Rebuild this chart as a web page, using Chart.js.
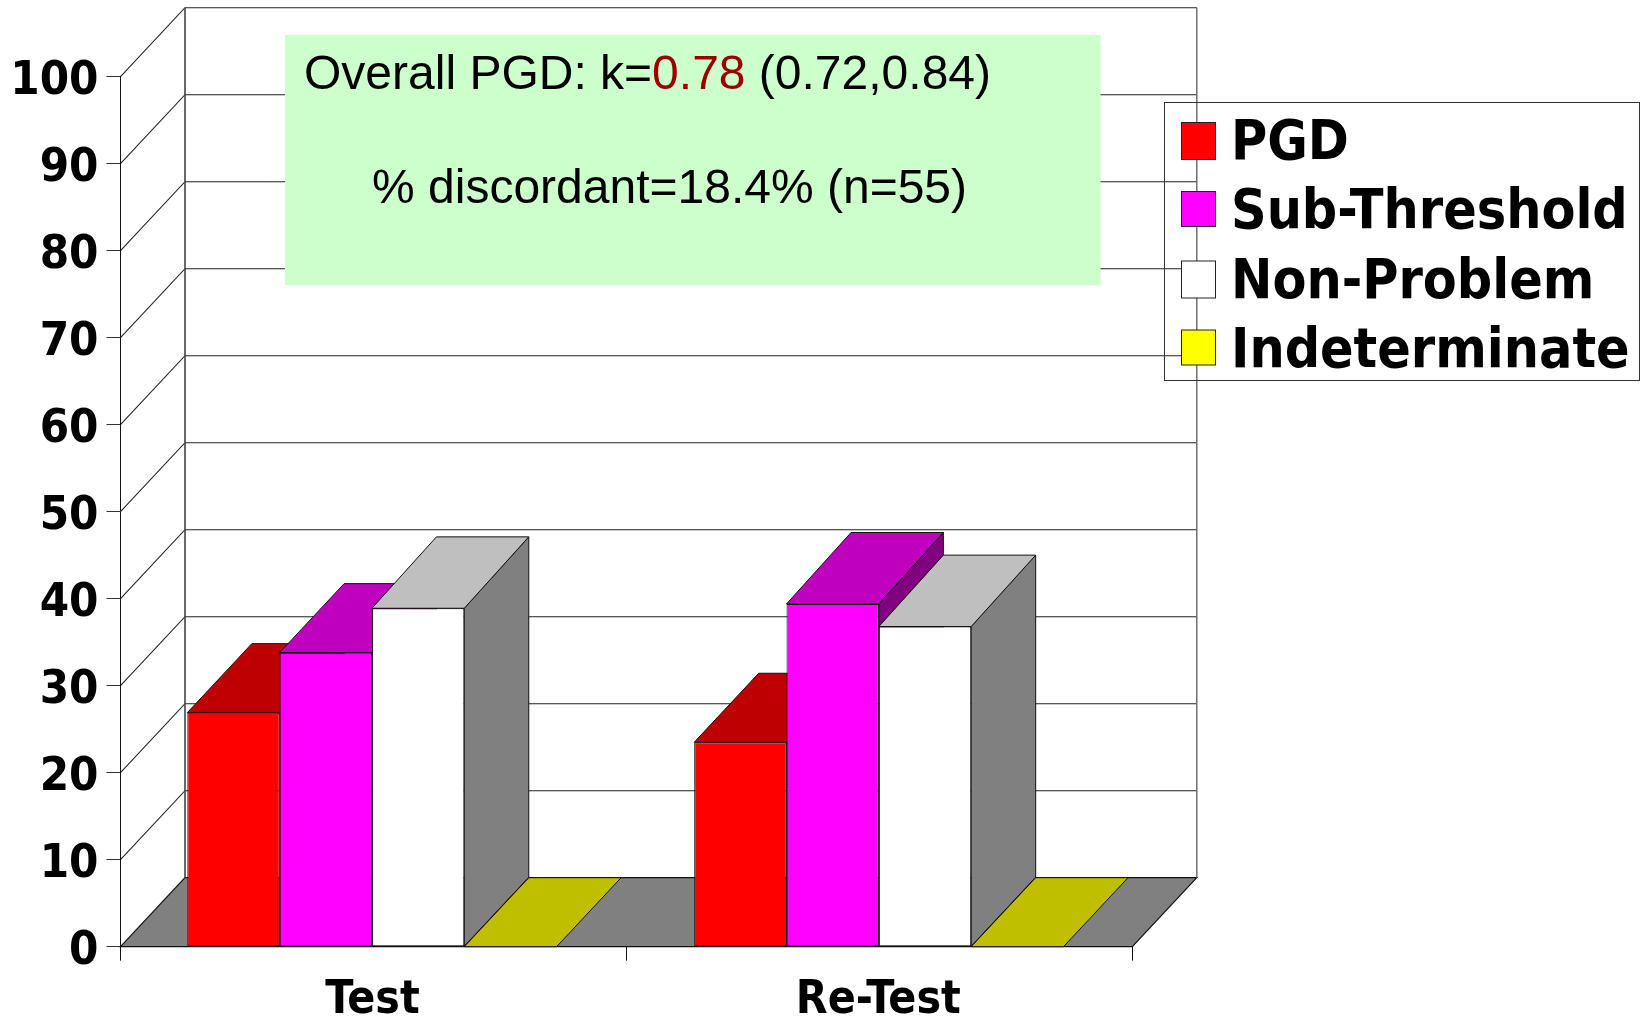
<!DOCTYPE html>
<html><head><meta charset="utf-8">
<style>html,body{margin:0;padding:0;background:#fff}canvas{display:block}</style>
<script src="https://cdn.jsdelivr.net/npm/chart.js@4/dist/chart.umd.min.js"></script>
</head><body><canvas id="c" width="1648" height="1019"></canvas>
<script>
const categories = ["Test", "Re-Test"];
const seriesNames = ["PGD", "Sub-Threshold", "Non-Problem", "Indeterminate"];
const pgd = [26.9, 23.5];
const subThreshold = [33.8, 39.4];
const nonProblem = [38.9, 36.8];
const indeterminate = [0, 0];
const frontColors = ["#FF0000", "#FF00FF", "#FFFFFF", "#FFFF00"];
const topColors = ["#BF0000", "#BF00BF", "#BFBFBF", "#BFBF00"];
const sideColors = ["#800000", "#800080", "#808080", "#808000"];
const noteLine1 = ["Overall PGD: k=", "0.78", " (0.72,0.84)"];
const noteLine2 = "% discordant=18.4% (n=55)";
const DX = 64.5, DY = 69, TALL_DY = 71.4, TALL_FROM = 35;
const BAR_SHIFT = [-1.5, -0.5];
const bold = s => `bold ${s}px "DejaVu Sans Condensed", "DejaVu Sans", sans-serif`;

function poly(ctx, pts, fill, stroke, lw) {
  ctx.beginPath();
  pts.forEach((p, i) => i ? ctx.lineTo(p[0], p[1]) : ctx.moveTo(p[0], p[1]));
  ctx.closePath();
  if (fill) { ctx.fillStyle = fill; ctx.fill(); }
  if (stroke) { ctx.strokeStyle = stroke; ctx.lineWidth = lw || 1; ctx.stroke(); }
}

const walls = {
  id: "walls",
  afterDatasetsUpdate(chart) {
    chart.data.datasets.forEach((ds, i) => {
      chart.getDatasetMeta(i).data.forEach((el, c) => { el.x += BAR_SHIFT[c]; });
    });
  },
  beforeDraw(chart) {
    const { ctx, chartArea: a, scales: { y } } = chart;
    ctx.save();
    const y0 = y.getPixelForValue(0);
    poly(ctx, [[a.left, y0], [a.right, y0], [a.right + DX, y0 - DY], [a.left + DX, y0 - DY]], "#808080", "#111", 1.2);
    ctx.lineWidth = 1.1; ctx.strokeStyle = "#222";
    y.ticks.forEach(t => {
      const p = y.getPixelForValue(t.value);
      if (t.value > 0) {
        ctx.beginPath();
        ctx.moveTo(a.left, p); ctx.lineTo(a.left + DX, p - DY); ctx.lineTo(a.right + DX, p - DY);
        ctx.stroke();
      }
    });
    ctx.strokeStyle = "#444"; ctx.lineWidth = 1.6;
    ctx.beginPath(); ctx.moveTo(a.left + DX, y0 - DY); ctx.lineTo(a.left + DX, a.top - DY); ctx.stroke();
    ctx.strokeStyle = "#666"; ctx.lineWidth = 1.4;
    ctx.beginPath(); ctx.moveTo(a.right + DX, y0 - DY); ctx.lineTo(a.right + DX, a.top - DY); ctx.stroke();
    ctx.restore();
  },
  beforeDatasetsDraw(chart) {
    const { ctx } = chart;
    ctx.save();
    ctx.lineJoin = "round";
    for (let c = 0; c < categories.length; c++) {
      chart.data.datasets.forEach((ds, i) => {
        const el = chart.getDatasetMeta(i).data[c];
        const l = el.x - el.width / 2, r = el.x + el.width / 2, t = el.y, b = el.base;
        const dy = ds.data[c] > TALL_FROM ? TALL_DY : DY;
        if (b - t > 0.5) poly(ctx, [[r, t], [r + DX, t - dy], [r + DX, b - DY], [r, b]], sideColors[i], "#111", 1);
        poly(ctx, [[l, t], [l + DX, t - dy], [r + DX, t - dy], [r, t]], topColors[i], "#111", 1);
      });
    }
    ctx.restore();
  },
  afterDraw(chart) {
    const { ctx } = chart;
    ctx.save();
    ctx.fillStyle = "#CCFFCC";
    ctx.fillRect(285, 35, 815.5, 250);
    ctx.font = '48px "Liberation Sans", Arial, sans-serif';
    ctx.textBaseline = "alphabetic"; ctx.textAlign = "left";
    let x = 304;
    [["#000", noteLine1[0]], ["#990000", noteLine1[1]], ["#000", noteLine1[2]]].forEach(([col, s]) => {
      ctx.fillStyle = col; ctx.fillText(s, x, 88.5); x += ctx.measureText(s).width;
    });
    ctx.fillStyle = "#000"; ctx.fillText(noteLine2, 372, 203);
    // legend
    ctx.strokeStyle = "#333"; ctx.lineWidth = 1;
    ctx.strokeRect(1164.5, 102.5, 475, 278);
    const boxes = [[122.5, 37], [191.5, 35], [261, 37], [330, 35]];
    const base = [159, 228, 298, 367];
    chart.data.datasets.forEach((ds, i) => {
      ctx.fillStyle = ds.backgroundColor;
      ctx.fillRect(1181.5, boxes[i][0], 34, boxes[i][1]);
      ctx.strokeStyle = "#222"; ctx.strokeRect(1181.5, boxes[i][0], 34, boxes[i][1]);
      ctx.fillStyle = "#000"; ctx.font = bold(55);
      ctx.fillText(ds.label, 1231, base[i]);
    });
    ctx.restore();
  }
};

const seriesValues = [pgd, subThreshold, nonProblem, indeterminate];
new Chart(document.getElementById("c"), {
  type: "bar",
  data: {
    labels: categories,
    datasets: seriesNames.map((n, i) => ({
      label: n, data: seriesValues[i], backgroundColor: frontColors[i],
      borderColor: "#111", borderWidth: 1, borderSkipped: false
    }))
  },
  options: {
    responsive: false, animation: false,
    layout: { padding: { top: 76.7, right: 515.7, bottom: 0, left: 0 } },
    categoryPercentage: 0.73, barPercentage: 1,
    plugins: { legend: { display: false }, title: { display: false }, tooltip: { enabled: false } },
    scales: {
      x: {
        afterFit(s) { s.height = 72.3; },
        grid: { display: true, drawOnChartArea: false, drawTicks: true, tickLength: 14, tickColor: "#111", offset: true },
        border: { color: "#111", width: 1 },
        ticks: { color: "#000", font: { family: '"DejaVu Sans Condensed","DejaVu Sans"', weight: "bold", size: 46 }, padding: 13, labelOffset: -1, maxRotation: 0 }
      },
      y: {
        min: 0, max: 100,
        afterFit(s) { s.width = 120.5; },
        grid: { display: true, drawOnChartArea: false, drawTicks: true, tickLength: 14, tickColor: "#333" },
        border: { color: "#111", width: 1 },
        ticks: { stepSize: 10, color: "#000", autoSkip: false, font: { family: '"DejaVu Sans Condensed","DejaVu Sans"', weight: "bold", size: 47 }, padding: 8, labelOffset: 5 }
      }
    }
  },
  plugins: [walls]
});
</script></body></html>
